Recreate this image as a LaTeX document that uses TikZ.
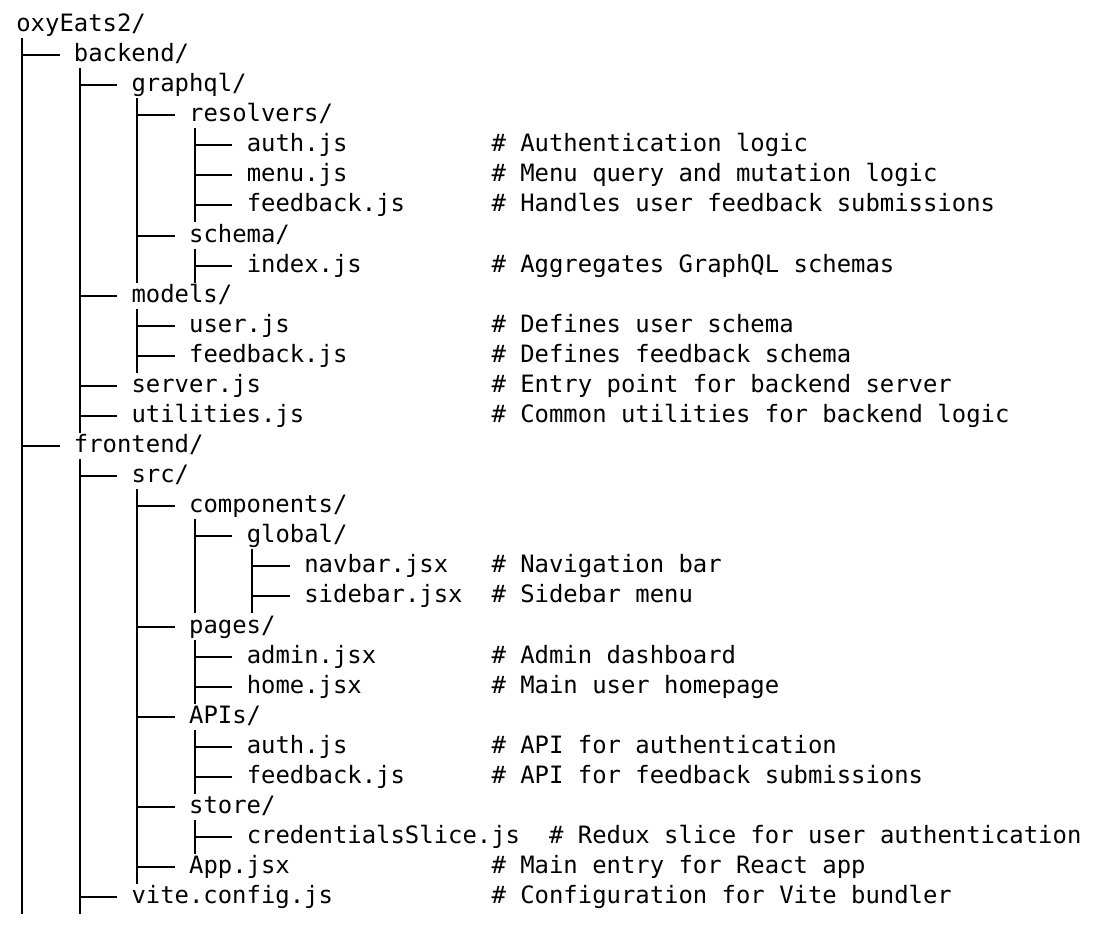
\documentclass[tikz,border=0pt]{standalone}
\usepackage{fontspec}
\newfontfamily\treefont{DejaVu Sans Mono}
\usepackage{tikz}
\usetikzlibrary{positioning}
\usetikzlibrary{calc}

\tikzset{
  entry/.style={anchor=west, inner sep=0pt, text height=10.9pt, text depth=3.4pt,
    font=\treefont\fontsize{13.6}{16}\selectfont},
  branch/.style={black, line width=0.04cm}
}

\begin{document}
\begin{tikzpicture}[x=0.02cm, y=-0.02cm]
\useasboundingbox (0,0) rectangle (1094,948);

% directory entries
\node[entry] (root) at (16,25) {oxyEats2/};
\node[entry] (backend) at (73.6,55) {backend/};
\node[entry] (graphql) at (131.2,85) {graphql/};
\node[entry] (resolvers) at (188.8,115) {resolvers/};
\node[entry] (rauth) at (246.4,145) {auth.js};
\node[entry] (rmenu) at (246.4,175) {menu.js};
\node[entry] (rfeedback) at (246.4,205) {feedback.js};
\node[entry] (schema) at (188.8,236) {schema/};
\node[entry] (index) at (246.4,266) {index.js};
\node[entry] (models) at (131.2,296) {models/};
\node[entry] (muser) at (188.8,326) {user.js};
\node[entry] (mfeedback) at (188.8,356) {feedback.js};
\node[entry] (server) at (131.2,386) {server.js};
\node[entry] (utilities) at (131.2,416) {utilities.js};
\node[entry] (frontend) at (73.6,446) {frontend/};
\node[entry] (src) at (131.2,476) {src/};
\node[entry] (components) at (188.8,506) {components/};
\node[entry] (global) at (246.4,536) {global/};
\node[entry] (navbar) at (304,566) {navbar.jsx};
\node[entry] (sidebar) at (304,596) {sidebar.jsx};
\node[entry] (pages) at (188.8,627) {pages/};
\node[entry] (admin) at (246.4,657) {admin.jsx};
\node[entry] (home) at (246.4,687) {home.jsx};
\node[entry] (apis) at (188.8,717) {APIs/};
\node[entry] (aauth) at (246.4,747) {auth.js};
\node[entry] (afeedback) at (246.4,777) {feedback.js};
\node[entry] (store) at (188.8,807) {store/};
\node[entry] (slice) at (246.4,837) {credentialsSlice.js};
\node[entry] (app) at (188.8,867) {App.jsx};
\node[entry] (vite) at (131.2,897) {vite.config.js};

% comments
\node[entry] (note-rauth) at (491.2,145) {\# Authentication logic};
\node[entry] (note-rmenu) at (491.2,175) {\# Menu query and mutation logic};
\node[entry] (note-rfeedback) at (491.2,205) {\# Handles user feedback submissions};
\node[entry] (note-index) at (491.2,266) {\# Aggregates GraphQL schemas};
\node[entry] (note-muser) at (491.2,326) {\# Defines user schema};
\node[entry] (note-mfeedback) at (491.2,356) {\# Defines feedback schema};
\node[entry] (note-server) at (491.2,386) {\# Entry point for backend server};
\node[entry] (note-utilities) at (491.2,416) {\# Common utilities for backend logic};
\node[entry] (note-navbar) at (491.2,566) {\# Navigation bar};
\node[entry] (note-sidebar) at (491.2,596) {\# Sidebar menu};
\node[entry] (note-admin) at (491.2,657) {\# Admin dashboard};
\node[entry] (note-home) at (491.2,687) {\# Main user homepage};
\node[entry] (note-aauth) at (491.2,747) {\# API for authentication};
\node[entry] (note-afeedback) at (491.2,777) {\# API for feedback submissions};
\node[entry] (note-slice) at (548.8,837) {\# Redux slice for user authentication};
\node[entry] (note-app) at (491.2,867) {\# Main entry for React app};
\node[entry] (note-vite) at (491.2,897) {\# Configuration for Vite bundler};

% vertical lines
\draw[branch] ([shift={(-51.6,-17)}]backend.west) -- ([shift={(-109.2,17)}]vite.west);
\draw[branch] ([shift={(-51.6,-17)}]graphql.west) -- ([shift={(-51.6,17)}]utilities.west);
\draw[branch] ([shift={(-51.6,-17)}]resolvers.west) -- ([shift={(-109.2,17)}]index.west);
\draw[branch] ([shift={(-51.6,-17)}]rauth.west) -- ([shift={(-51.6,17)}]rfeedback.west);
\draw[branch] ([shift={(-51.6,-17)}]index.west) -- ([shift={(-51.6,17)}]index.west);
\draw[branch] ([shift={(-51.6,-17)}]muser.west) -- ([shift={(-51.6,17)}]mfeedback.west);
\draw[branch] ([shift={(-51.6,-17)}]src.west) -- ([shift={(-51.6,17)}]vite.west);
\draw[branch] ([shift={(-51.6,-17)}]components.west) -- ([shift={(-51.6,17)}]app.west);
\draw[branch] ([shift={(-51.6,-17)}]global.west) -- ([shift={(-109.2,17)}]sidebar.west);
\draw[branch] ([shift={(-51.6,-17)}]navbar.west) -- ([shift={(-51.6,17)}]sidebar.west);
\draw[branch] ([shift={(-51.6,-17)}]admin.west) -- ([shift={(-51.6,17)}]home.west);
\draw[branch] ([shift={(-51.6,-17)}]aauth.west) -- ([shift={(-51.6,17)}]afeedback.west);
\draw[branch] ([shift={(-51.6,-17)}]slice.west) -- ([shift={(-51.6,17)}]slice.west);

% branches
\draw[branch] (backend.west) ++(-14,0) -- ++(-37.6,0);
\draw[branch] (graphql.west) ++(-14,0) -- ++(-37.6,0);
\draw[branch] (resolvers.west) ++(-14,0) -- ++(-37.6,0);
\draw[branch] (rauth.west) ++(-14,0) -- ++(-37.6,0);
\draw[branch] (rmenu.west) ++(-14,0) -- ++(-37.6,0);
\draw[branch] (rfeedback.west) ++(-14,0) -- ++(-37.6,0);
\draw[branch] (schema.west) ++(-14,0) -- ++(-37.6,0);
\draw[branch] (index.west) ++(-14,0) -- ++(-37.6,0);
\draw[branch] (models.west) ++(-14,0) -- ++(-37.6,0);
\draw[branch] (muser.west) ++(-14,0) -- ++(-37.6,0);
\draw[branch] (mfeedback.west) ++(-14,0) -- ++(-37.6,0);
\draw[branch] (server.west) ++(-14,0) -- ++(-37.6,0);
\draw[branch] (utilities.west) ++(-14,0) -- ++(-37.6,0);
\draw[branch] (frontend.west) ++(-14,0) -- ++(-37.6,0);
\draw[branch] (src.west) ++(-14,0) -- ++(-37.6,0);
\draw[branch] (components.west) ++(-14,0) -- ++(-37.6,0);
\draw[branch] (global.west) ++(-14,0) -- ++(-37.6,0);
\draw[branch] (navbar.west) ++(-14,0) -- ++(-37.6,0);
\draw[branch] (sidebar.west) ++(-14,0) -- ++(-37.6,0);
\draw[branch] (pages.west) ++(-14,0) -- ++(-37.6,0);
\draw[branch] (admin.west) ++(-14,0) -- ++(-37.6,0);
\draw[branch] (home.west) ++(-14,0) -- ++(-37.6,0);
\draw[branch] (apis.west) ++(-14,0) -- ++(-37.6,0);
\draw[branch] (aauth.west) ++(-14,0) -- ++(-37.6,0);
\draw[branch] (afeedback.west) ++(-14,0) -- ++(-37.6,0);
\draw[branch] (store.west) ++(-14,0) -- ++(-37.6,0);
\draw[branch] (slice.west) ++(-14,0) -- ++(-37.6,0);
\draw[branch] (app.west) ++(-14,0) -- ++(-37.6,0);
\draw[branch] (vite.west) ++(-14,0) -- ++(-37.6,0);

\end{tikzpicture}
\end{document}
